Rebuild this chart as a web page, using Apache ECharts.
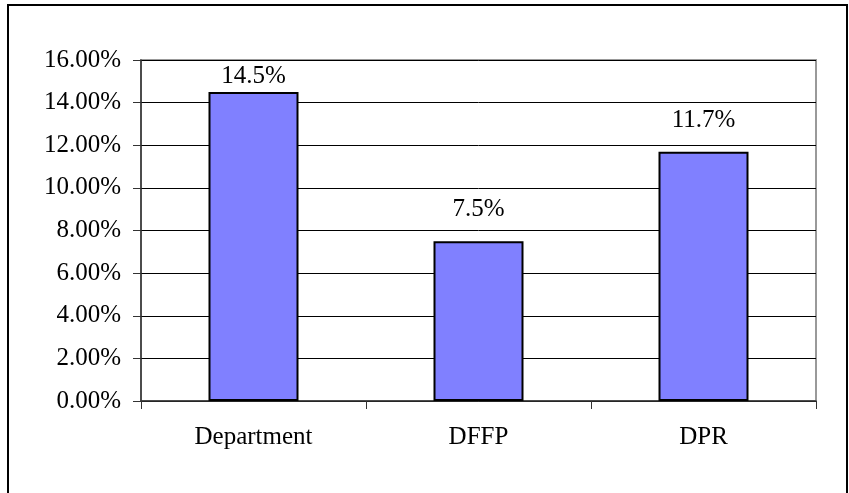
<!DOCTYPE html>
<html lang="en">
<head>
    <meta charset="UTF-8">
    <title>Department / DFFP / DPR</title>
    <script src="https://cdn.jsdelivr.net/npm/echarts@6/dist/echarts.min.js"></script>
    <style>
        html, body { margin: 0; padding: 0; background: #fff; }
        #chart { width: 849px; height: 493px; }
    </style>
</head>
<body>
    <div id="chart"></div>
    <script>
        var categories = ['Department', 'DFFP', 'DPR'];
        var values = [14.5, 7.5, 11.7];
        var valueLabels = ['14.5%', '7.5%', '11.7%'];

        var serif = '"Liberation Serif", "Times New Roman", serif';
        var myChart = echarts.init(document.getElementById('chart'));

        // the first label sits clamped just under the plot top, like the original
        var barData = values.map(function (v, i) {
            return { value: v, label: { distance: i === 0 ? 3 : 19 } };
        });

        var option = {
            animation: false,
            backgroundColor: '#fff',
            textStyle: { fontFamily: serif },
            // outer frame
            graphic: [{
                type: 'rect',
                shape: { x: 8, y: 5, width: 839, height: 500 },
                style: { fill: 'none', stroke: '#000', lineWidth: 2 },
                silent: true
            }],
            grid: {
                left: 141, right: 33, top: 60, bottom: 92,
                show: true,
                borderColor: '#999',
                borderWidth: 2
            },
            xAxis: {
                type: 'category',
                data: categories,
                boundaryGap: true,
                axisLine: { lineStyle: { color: '#333', width: 1.5 } },
                axisTick: { show: true, length: 8, lineStyle: { color: '#333' } },
                axisLabel: { color: '#000', fontSize: 25, fontFamily: serif, margin: 24 }
            },
            yAxis: {
                type: 'value',
                min: 0, max: 16, interval: 2,
                axisLine: { show: true, lineStyle: { color: '#333', width: 1.5 } },
                axisTick: { show: true, length: 8, lineStyle: { color: '#333' } },
                axisLabel: {
                    color: '#000', fontSize: 25, fontFamily: serif, margin: 20,
                    formatter: function (v) { return v.toFixed(2) + '%'; }
                },
                splitLine: { show: true, lineStyle: { color: '#000', width: 1 } }
            },
            series: [{
                type: 'bar',
                data: barData,
                barWidth: '40%',
                itemStyle: { color: '#8080FF', borderColor: '#000', borderWidth: 2 },
                label: {
                    show: true,
                    position: 'top',
                    color: '#000',
                    fontSize: 25,
                    fontFamily: serif,
                    formatter: function (p) { return valueLabels[p.dataIndex]; }
                }
            }]
        };

        myChart.setOption(option);
    </script>
</body>
</html>
